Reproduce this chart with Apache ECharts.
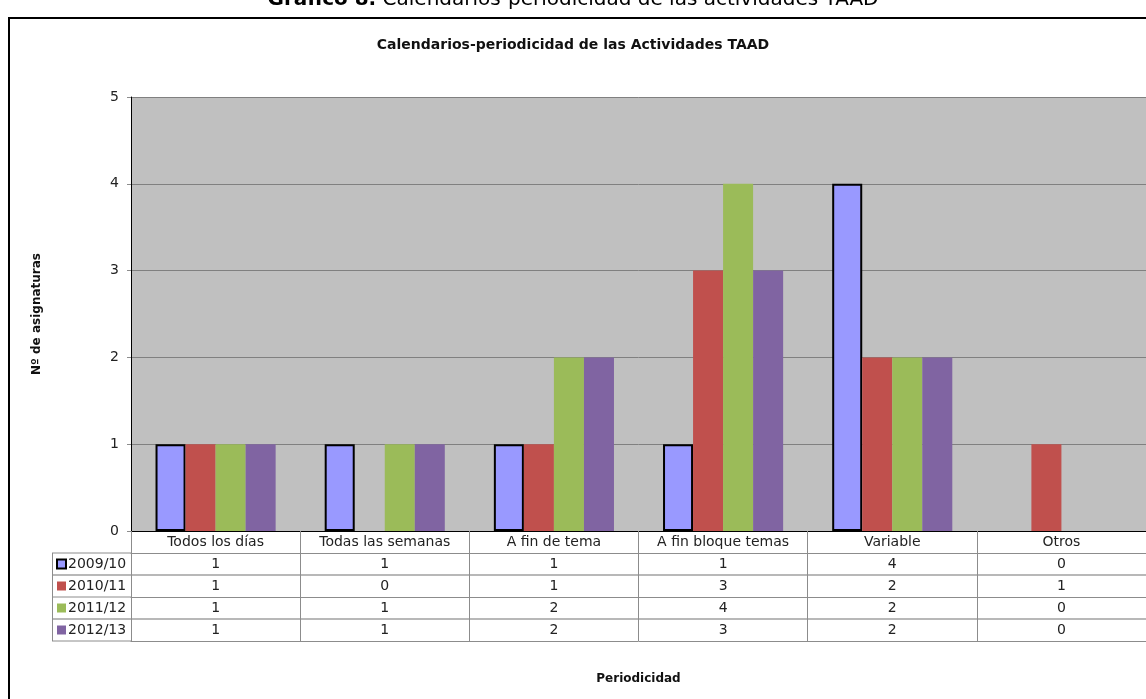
<!DOCTYPE html>
<html>
<head>
<meta charset="utf-8">
<script src="https://cdn.jsdelivr.net/npm/echarts@6/dist/echarts.min.js"></script>
<style>html,body{margin:0;padding:0;background:#fff}#c{width:1146px;height:699px}</style>
</head>
<body>
<div id="c"></div>
<script>
var categories = ['Todos los días', 'Todas las semanas', 'A fin de tema', 'A fin bloque temas', 'Variable', 'Otros'];
var seriesNames = ['2009/10', '2010/11', '2011/12', '2012/13'];
var s2009 = [1, 1, 1, 1, 4, 0];
var s2010 = [1, 0, 1, 3, 2, 1];
var s2011 = [1, 1, 2, 4, 2, 0];
var s2012 = [1, 1, 2, 3, 2, 0];
var yTicks = [0, 1, 2, 3, 4, 5];
var colors = ['#9999FF', '#C0504D', '#9BBB59', '#8064A2'];

var allRows = [s2009, s2010, s2011, s2012];
var FONT = 'DejaVu Sans';
var GRID_LEFT = 131, GRID_TOP = 97, GRID_BOTTOM_Y = 531, ROW_H = 22;

var xAxes = [{
  type: 'category', data: categories, gridIndex: 0, position: 'bottom', offset: 0,
  axisLine: { show: true, lineStyle: { color: '#000', width: 1 } },
  axisTick: { show: true, interval: 0, length: ROW_H * 5, lineStyle: { color: '#8c8c8c' } },
  axisLabel: { interval: 0, margin: 4, fontFamily: FONT, fontSize: 14, color: '#222' },
  name: 'Periodicidad', nameLocation: 'middle', nameGap: 142,
  nameTextStyle: { fontFamily: FONT, fontWeight: 'bold', fontSize: 12, color: '#111' }
}];
for (var k = 0; k < 5; k++) {
  (function (k) {
    xAxes.push({
      type: 'category', data: categories, gridIndex: 0, position: 'bottom', offset: ROW_H * (k + 1),
      axisLine: { show: true, lineStyle: { color: k % 2 === 0 ? '#8c8c8c' : '#b8b8b8', width: k % 2 === 0 ? 1 : 2 } },
      axisTick: { show: false },
      axisLabel: {
        show: k < 4, interval: 0, margin: 4, fontFamily: FONT, fontSize: 14, color: '#222',
        formatter: function (v, i) { return k < 4 ? String(allRows[k][i]) : ''; }
      }
    });
  })(k);
}

var series = allRows.map(function (d, i) {
  return {
    name: seriesNames[i], type: 'bar', xAxisIndex: 0,
    data: d.map(function (v) { return v === 0 ? { value: v, itemStyle: { borderWidth: 0 } } : v; }),
    barGap: 0, barCategoryGap: '29%',
    itemStyle: i === 0 ? { color: colors[i], borderColor: '#000', borderWidth: 2 } : { color: colors[i] }
  };
});

var lines = [];
for (var r = 1; r <= 5; r++) {
  lines.push({ type: 'line', shape: { x1: 52, y1: GRID_BOTTOM_Y + ROW_H * r, x2: GRID_LEFT, y2: GRID_BOTTOM_Y + ROW_H * r },
    style: { stroke: r % 2 === 1 ? '#8c8c8c' : '#b8b8b8', lineWidth: r % 2 === 1 ? 1 : 2 } });
}
lines.push({ type: 'line', shape: { x1: 52.5, y1: GRID_BOTTOM_Y + ROW_H, x2: 52.5, y2: GRID_BOTTOM_Y + ROW_H * 5 }, style: { stroke: '#8c8c8c', lineWidth: 1 } });
lines.push({ type: 'rect', shape: { x: 9, y: 18, width: 1300, height: 900 }, style: { fill: 'none', stroke: '#000', lineWidth: 2 }, z: 100 });

var chart = echarts.init(document.getElementById('c'));
chart.setOption({
  animation: false,
  backgroundColor: '#fff',
  color: colors,
  title: [{
    text: '{b|Gráfico 8.} Calendarios-periodicidad de las actividades TAAD',
    left: 'center', top: -15,
    textStyle: { fontFamily: FONT, fontSize: 20, fontWeight: 'normal', color: '#000',
      rich: { b: { fontFamily: FONT, fontSize: 20, fontWeight: 'bold', color: '#000' } } }
  }, {
    text: 'Calendarios-periodicidad de las Actividades TAAD',
    left: 'center', top: 33,
    textStyle: { fontFamily: FONT, fontSize: 14, fontWeight: 'bold', color: '#111' }
  }],
  legend: {
    data: seriesNames, orient: 'vertical', left: 56, top: 557, padding: 0,
    itemWidth: 9, itemHeight: 9, itemGap: 8, icon: 'rect',
    textStyle: { fontFamily: FONT, fontSize: 14, lineHeight: 14, color: '#222', padding: [0, 0, 0, -3] }
  },
  grid: { left: GRID_LEFT, right: 0, top: GRID_TOP, bottom: 699 - GRID_BOTTOM_Y, show: true, backgroundColor: '#C0C0C0', borderWidth: 0 },
  xAxis: xAxes,
  yAxis: {
    type: 'value', min: 0, max: 5, interval: 1,
    axisLine: { show: true, lineStyle: { color: '#000', width: 1 } },
    axisTick: { show: true, length: 4, lineStyle: { color: '#8c8c8c' } },
    splitLine: { show: true, lineStyle: { color: '#808080', width: 1 } },
    axisLabel: { fontFamily: FONT, fontSize: 14, color: '#222', margin: 12,
      formatter: function (v) { return yTicks.indexOf(v) >= 0 ? String(v) : ''; } },
    name: 'Nº de asignaturas', nameLocation: 'middle', nameGap: 88, nameRotate: 90,
    nameTextStyle: { fontFamily: FONT, fontWeight: 'bold', fontSize: 12, color: '#111' }
  },
  graphic: lines,
  series: series
});
</script>
</body>
</html>
